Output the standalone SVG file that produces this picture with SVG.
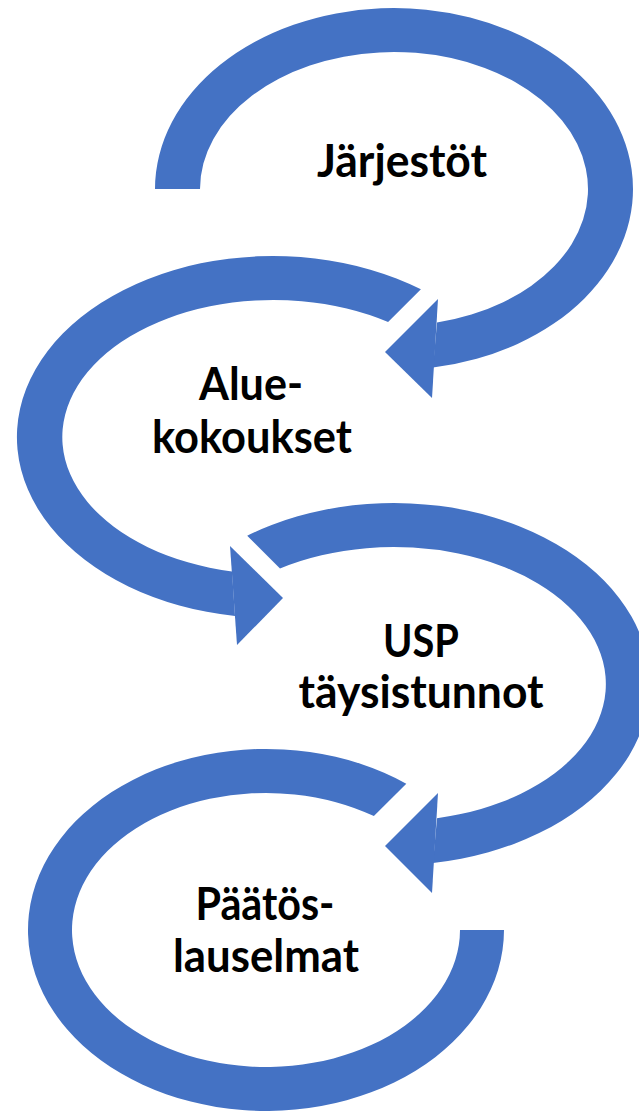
<svg xmlns="http://www.w3.org/2000/svg" width="639" height="1112" viewBox="0 0 639 1112">
  <style>
    .ring { fill: #4472C4; stroke: none; }
    .head { fill: #4472C4; stroke: none; }
    .lbl { font-family: Lato, "Open Sans", "Liberation Sans", sans-serif; font-weight: 700; font-size: 45px; fill: #000000; text-anchor: middle; }
  </style>
  <rect width="639" height="1112" fill="#FFFFFF"/>
  <g id="node-jarjestot">
    <path class="ring" d="M155,189 A239,181 0 1 1 433,367.6 L437,322.6 A194,137 0 1 0 200,189 Z"/>
    <text class="lbl" x="402" y="177" textLength="170" lengthAdjust="spacingAndGlyphs">Järjestöt</text>
  </g>
  <g id="node-aluekokoukset">
    <path class="ring" d="M420.9,289.3 A256,181 0 1 0 235,616 L232,571.4 A211,137 0 1 1 388.1,322.1 Z"/>
    <text class="lbl" x="251" y="400" textLength="104" lengthAdjust="spacingAndGlyphs">Alue-</text>
    <text class="lbl" x="252" y="453" textLength="200" lengthAdjust="spacingAndGlyphs">kokoukset</text>
  </g>
  <g id="node-usp">
    <path class="ring" d="M247.2,535.7 A256,181 0 1 1 433,862.9 L437,818.2 A212,137 0 1 0 280,568.5 Z"/>
    <text class="lbl" x="421" y="657" textLength="76" lengthAdjust="spacingAndGlyphs">USP</text>
    <text class="lbl" x="421" y="708" textLength="245" lengthAdjust="spacingAndGlyphs">täysistunnot</text>
  </g>
  <g id="node-paatoslauselmat">
    <path class="ring" d="M406.3,783.7 A238,181 0 1 0 504,930 L460,930 A194,137 0 1 1 373.9,816.1 Z"/>
    <text class="lbl" x="265" y="920" textLength="139" lengthAdjust="spacingAndGlyphs">Päätös-</text>
    <text class="lbl" x="266" y="972" textLength="186" lengthAdjust="spacingAndGlyphs">lauselmat</text>
  </g>
  <g id="connectors">
    <polygon class="head" points="438,299 385,352 432,398"/>
    <polygon class="head" points="230,546 283,598 237,645"/>
    <polygon class="head" points="438,793 385,846 432,893"/>
  </g>
</svg>
